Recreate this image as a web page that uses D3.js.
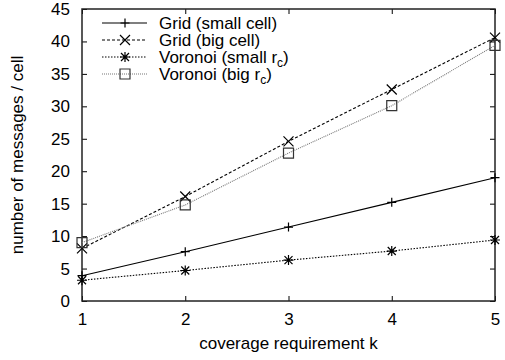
<!DOCTYPE html>
<html>
<head>
<meta charset="utf-8">
<script src="https://cdnjs.cloudflare.com/ajax/libs/d3/7.8.5/d3.min.js"></script>
<style>
  body { margin: 0; background: #fff; }
  svg { font-family: "Liberation Sans", Arial, sans-serif; }
</style>
</head>
<body>
<svg id="chart" width="505" height="360"></svg>
<script>
// data
var kValues = [1, 2, 3, 4, 5];
var gridSmall = [3.9, 7.6, 11.4, 15.2, 19.0];
var gridBig = [8.1, 16.1, 24.6, 32.6, 40.6];
var voronoiSmall = [3.2, 4.7, 6.3, 7.7, 9.4];
var voronoiBig = [9.0, 14.8, 22.8, 30.1, 39.4];
var yTicks = [0, 5, 10, 15, 20, 25, 30, 35, 40, 45];

var series = [
  { name: 'Grid (small cell)', sub: null, values: gridSmall, dash: null, color: '#000', marker: 'plus' },
  { name: 'Grid (big cell)', sub: null, values: gridBig, dash: '3,2', color: '#000', marker: 'cross' },
  { name: 'Voronoi (small r', sub: 'c', values: voronoiSmall, dash: '1.5,1.5', color: '#000', marker: 'star' },
  { name: 'Voronoi (big r', sub: 'c', values: voronoiBig, dash: '1,1', color: '#777', marker: 'square' }
];

var margin = { left: 82, right: 10, top: 9, bottom: 59 };
var W = 505, H = 360;
var fontSize = 17;
var svg = d3.select('#chart');

var x = d3.scaleLinear().domain([1, 5]).range([margin.left, W - margin.right]);
var y = d3.scaleLinear().domain([0, 45]).range([H - margin.bottom, margin.top]);

var tickLen = 5;
// inward ticks, mirrored on all four sides
var gx = svg.append('g').attr('transform', 'translate(0,' + y(0) + ')')
  .call(d3.axisBottom(x).tickValues(kValues).tickSize(-tickLen).tickPadding(12).tickFormat(d3.format('d')));
var gxt = svg.append('g').attr('transform', 'translate(0,' + y(45) + ')')
  .call(d3.axisTop(x).tickValues(kValues).tickSize(-tickLen).tickFormat(''));
var gy = svg.append('g').attr('transform', 'translate(' + x(1) + ',0)')
  .call(d3.axisLeft(y).tickValues(yTicks).tickSize(-tickLen).tickPadding(12));
var gyr = svg.append('g').attr('transform', 'translate(' + x(5) + ',0)')
  .call(d3.axisRight(y).tickValues(yTicks).tickSize(-tickLen).tickFormat(''));

[gx, gxt, gy, gyr].forEach(function (g) {
  g.select('.domain').remove();
  g.selectAll('line').attr('stroke', '#000');
  g.selectAll('text').attr('font-size', fontSize).attr('fill', '#000')
    .attr('font-family', '"Liberation Sans", Arial, sans-serif');
});

svg.append('rect')
  .attr('x', x(1)).attr('y', y(45))
  .attr('width', x(5) - x(1)).attr('height', y(0) - y(45))
  .attr('fill', 'none').attr('stroke', '#222').attr('stroke-width', 1.5);

// axis titles
svg.append('text').attr('x', (x(1) + x(5)) / 2).attr('y', 349)
  .attr('text-anchor', 'middle').attr('font-size', fontSize).text('coverage requirement k');
svg.append('text')
  .attr('transform', 'translate(23,' + ((y(0) + y(45)) / 2) + ') rotate(-90)')
  .attr('text-anchor', 'middle').attr('font-size', fontSize).text('number of messages / cell');

function drawMarker(g, type, cx, cy, color) {
  var s = type === 'plus' ? 4.5 : 5;
  var p = d3.path();
  if (type === 'plus' || type === 'star') {
    p.moveTo(cx - s, cy); p.lineTo(cx + s, cy);
    p.moveTo(cx, cy - s); p.lineTo(cx, cy + s);
  }
  if (type === 'cross' || type === 'star') {
    var c = type === 'star' ? s * 0.8 : s;
    p.moveTo(cx - c, cy - c); p.lineTo(cx + c, cy + c);
    p.moveTo(cx - c, cy + c); p.lineTo(cx + c, cy - c);
  }
  if (type === 'square') {
    p.rect(cx - s, cy - s, 2 * s, 2 * s);
  }
  g.append('path').attr('d', p.toString()).attr('fill', 'none')
    .attr('stroke', type === 'square' ? '#333' : color).attr('stroke-width', 1.2);
}

var line = d3.line().x(function (d, i) { return x(kValues[i]); }).y(function (d) { return y(d); });

series.forEach(function (s) {
  svg.append('path').datum(s.values)
    .attr('d', line)
    .attr('fill', 'none')
    .attr('stroke', s.color)
    .attr('stroke-width', 1.1)
    .attr('stroke-dasharray', s.dash);
  var g = svg.append('g');
  s.values.forEach(function (v, i) {
    drawMarker(g, s.marker, x(kValues[i]), y(v), s.color);
  });
});

// legend
var legend = svg.append('g');
series.forEach(function (s, i) {
  var ly = 23 + i * 17;
  legend.append('line').attr('x1', 102).attr('x2', 147).attr('y1', ly).attr('y2', ly)
    .attr('stroke', s.color).attr('stroke-width', 1.1).attr('stroke-dasharray', s.dash);
  drawMarker(legend, s.marker, 125, ly, s.color);
  var t = legend.append('text').attr('x', 159).attr('y', ly + 6).attr('font-size', fontSize);
  t.append('tspan').text(s.name);
  if (s.sub) {
    t.append('tspan').attr('font-size', 12).attr('dy', 4).text(s.sub);
    t.append('tspan').attr('dy', -4).text(')');
  }
});
</script>
</body>
</html>
